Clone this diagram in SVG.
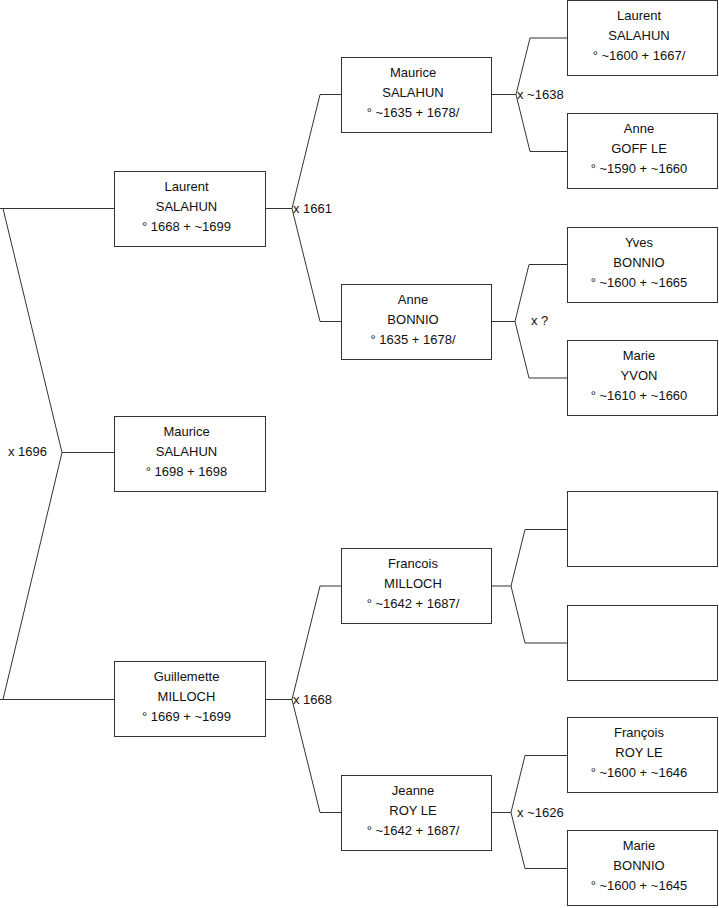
<svg xmlns="http://www.w3.org/2000/svg" width="719" height="908" viewBox="0 0 719 908">
<style>
rect.box{fill:#fff;stroke:#333;stroke-width:1}
.c path{fill:none;stroke:#333;stroke-width:1}
text{font-family:"Liberation Sans",Arial,sans-serif;font-size:13px;fill:#111}
.n text{text-anchor:middle}
</style>
<rect width="719" height="908" fill="#fff"/>
<g id="connectors" class="c">
<path d="M0,208.5 H114.5 M3,208.5 L62,452.5 L3,699.5 M62,452.5 H114.5 M0,699.5 H114.5"/>
<path d="M265.5,208.5 H292 L320,94.5 H341.5 M292,208.5 L320,321.5 H341.5"/>
<path d="M265.5,699.5 H292 L320,586 H341.5 M292,699.5 L320,812.5 H341.5"/>
<path d="M491.5,94.5 H516 L530,38 H567.5 M516,94.5 L530,151.5 H567.5"/>
<path d="M491.5,321.5 H515 L529,264.5 H567.5 M515,321.5 L529,378 H567.5"/>
<path d="M491.5,586 H511 L525,529.5 H567.5 M511,586 L525,643 H567.5"/>
<path d="M491.5,812.5 H511 L525,755.5 H567.5 M511,812.5 L525,868.5 H567.5"/>
</g>
<g id="marriages">
<text x="8" y="456">x 1696</text>
<text x="293" y="212.5">x 1661</text>
<text x="293" y="703.5">x 1668</text>
<text x="517" y="98.5">x ~1638</text>
<text x="531" y="325">x ?</text>
<text x="517" y="816.5">x ~1626</text>
</g>
<g id="n-laurent-1668" class="n"><rect class="box" x="114.5" y="171.5" width="151" height="75"/><text x="186.5" y="191">Laurent</text><text x="186.5" y="211">SALAHUN</text><text x="186.5" y="231">° 1668 + ~1699</text></g>
<g id="n-maurice-1698" class="n"><rect class="box" x="114.5" y="416.5" width="151" height="75"/><text x="186.5" y="436">Maurice</text><text x="186.5" y="456">SALAHUN</text><text x="186.5" y="476">° 1698 + 1698</text></g>
<g id="n-guillemette" class="n"><rect class="box" x="114.5" y="661.5" width="151" height="75"/><text x="186.5" y="681">Guillemette</text><text x="186.5" y="701">MILLOCH</text><text x="186.5" y="721">° 1669 + ~1699</text></g>
<g id="n-maurice-1635" class="n"><rect class="box" x="341.5" y="57.5" width="150" height="75"/><text x="413" y="77">Maurice</text><text x="413" y="97">SALAHUN</text><text x="413" y="117">° ~1635 + 1678/</text></g>
<g id="n-anne-bonnio" class="n"><rect class="box" x="341.5" y="284.5" width="150" height="75"/><text x="413" y="304">Anne</text><text x="413" y="324">BONNIO</text><text x="413" y="344">° 1635 + 1678/</text></g>
<g id="n-francois-milloch" class="n"><rect class="box" x="341.5" y="548.5" width="150" height="75"/><text x="413" y="568">Francois</text><text x="413" y="588">MILLOCH</text><text x="413" y="608">° ~1642 + 1687/</text></g>
<g id="n-jeanne" class="n"><rect class="box" x="341.5" y="775.5" width="150" height="75"/><text x="413" y="795">Jeanne</text><text x="413" y="815">ROY LE</text><text x="413" y="835">° ~1642 + 1687/</text></g>
<g id="n-laurent-1600" class="n"><rect class="box" x="567.5" y="0.5" width="150" height="75"/><text x="639" y="20">Laurent</text><text x="639" y="40">SALAHUN</text><text x="639" y="60">° ~1600 + 1667/</text></g>
<g id="n-anne-goff" class="n"><rect class="box" x="567.5" y="113.5" width="150" height="75"/><text x="639" y="133">Anne</text><text x="639" y="153">GOFF LE</text><text x="639" y="173">° ~1590 + ~1660</text></g>
<g id="n-yves" class="n"><rect class="box" x="567.5" y="227.5" width="150" height="75"/><text x="639" y="247">Yves</text><text x="639" y="267">BONNIO</text><text x="639" y="287">° ~1600 + ~1665</text></g>
<g id="n-marie-yvon" class="n"><rect class="box" x="567.5" y="340.5" width="150" height="75"/><text x="639" y="360">Marie</text><text x="639" y="380">YVON</text><text x="639" y="400">° ~1610 + ~1660</text></g>
<g id="n-empty-1" class="n"><rect class="box" x="567.5" y="491.5" width="150" height="75"/></g>
<g id="n-empty-2" class="n"><rect class="box" x="567.5" y="605.5" width="150" height="75"/></g>
<g id="n-francois-roy" class="n"><rect class="box" x="567.5" y="717.5" width="150" height="75"/><text x="639" y="737">François</text><text x="639" y="757">ROY LE</text><text x="639" y="777">° ~1600 + ~1646</text></g>
<g id="n-marie-bonnio" class="n"><rect class="box" x="567.5" y="830.5" width="150" height="75"/><text x="639" y="850">Marie</text><text x="639" y="870">BONNIO</text><text x="639" y="890">° ~1600 + ~1645</text></g>
</svg>
